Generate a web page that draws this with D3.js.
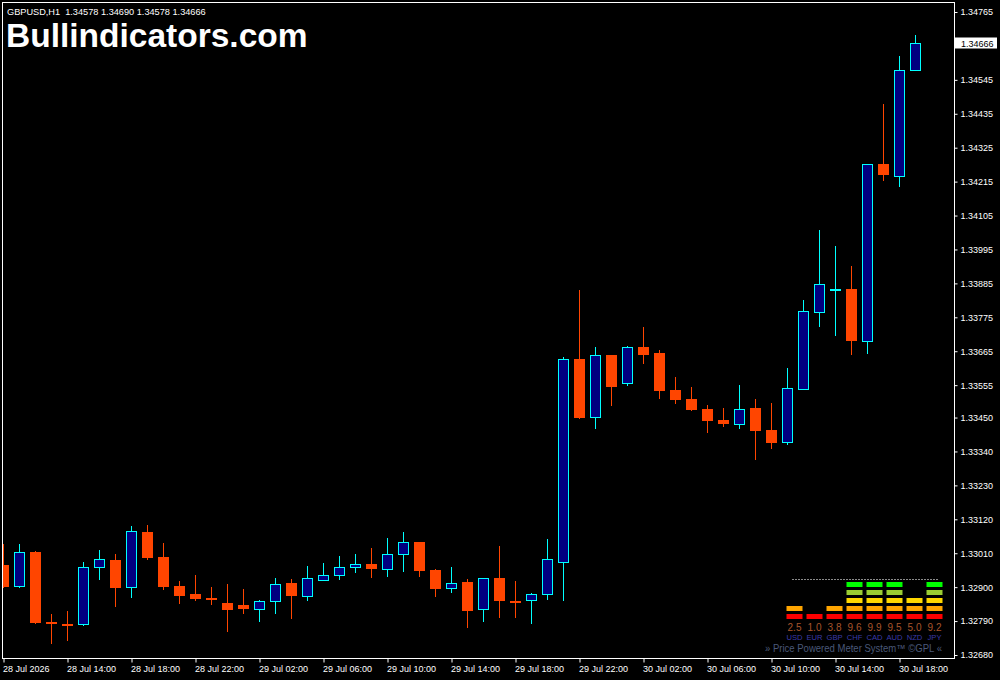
<!DOCTYPE html>
<html>
<head>
<meta charset="utf-8">
<script src="https://cdn.jsdelivr.net/npm/d3@7"></script>
<style>
  html, body { margin: 0; padding: 0; background: #000; }
  svg { display: block; }
  text { font-family: "Liberation Sans", Arial, sans-serif; }
</style>
</head>
<body>
<svg id="chart" width="1000" height="680"></svg>
<script>
// ---------------- DATA ----------------
const symbol = "GBPUSD,H1";
const watermark = "Bullindicators.com";
const startTime = "2026-07-28 10:00";
const open  = [1.32972,1.32903,1.33014,1.32787,1.32782,1.32780,1.32964,1.32988,1.32900,1.33079,
               1.32998,1.32904,1.32878,1.32865,1.32849,1.32842,1.32828,1.32854,1.32913,1.32870,
               1.32922,1.32938,1.32964,1.32975,1.32958,1.33007,1.33046,1.32956,1.32896,1.32917,
               1.32828,1.32930,1.32855,1.32857,1.32877,1.32983,1.33640,1.33451,1.33653,1.33563,
               1.33679,1.33659,1.33539,1.33510,1.33478,1.33442,1.33430,1.33481,1.33409,1.33370,
               1.33544,1.33793,1.33866,1.33867,1.33699,1.34272,1.34234,1.34578];
const high  = [1.33040,1.33040,1.33017,1.32813,1.32823,1.32982,1.33020,1.33008,1.33098,1.33102,
               1.33043,1.32920,1.32939,1.32900,1.32910,1.32894,1.32858,1.32930,1.32925,1.32969,
               1.32978,1.33001,1.33008,1.33027,1.33059,1.33079,1.33048,1.32959,1.32965,1.32926,
               1.32931,1.33033,1.32920,1.32881,1.33056,1.33645,1.33864,1.33679,1.33653,1.33683,
               1.33744,1.33669,1.33581,1.33549,1.33491,1.33481,1.33556,1.33510,1.33497,1.33611,
               1.33831,1.34058,1.34006,1.33941,1.34271,1.34467,1.34622,1.34690];
const low   = [1.32900,1.32902,1.32785,1.32720,1.32730,1.32777,1.32927,1.32840,1.32869,1.32992,
               1.32895,1.32850,1.32859,1.32846,1.32759,1.32817,1.32791,1.32817,1.32801,1.32859,
               1.32922,1.32927,1.32950,1.32934,1.32937,1.32953,1.32937,1.32872,1.32885,1.32772,
               1.32791,1.32804,1.32804,1.32785,1.32863,1.32858,1.33449,1.33417,1.33491,1.33556,
               1.33628,1.33514,1.33498,1.33474,1.33403,1.33424,1.33417,1.33316,1.33352,1.33365,
               1.33544,1.33748,1.33719,1.33656,1.33660,1.34220,1.34202,1.34578];
const close = [1.32901,1.33013,1.32785,1.32784,1.32780,1.32964,1.32990,1.32898,1.33081,1.32996,
               1.32901,1.32872,1.32863,1.32863,1.32827,1.32830,1.32855,1.32909,1.32872,1.32929,
               1.32938,1.32964,1.32974,1.32960,1.33007,1.33045,1.32953,1.32895,1.32913,1.32824,
               1.32929,1.32856,1.32850,1.32877,1.32990,1.33639,1.33449,1.33652,1.33549,1.33678,
               1.33653,1.33536,1.33507,1.33474,1.33439,1.33429,1.33477,1.33406,1.33368,1.33545,
               1.33794,1.33882,1.33868,1.33699,1.34271,1.34237,1.34578,1.34666];
const priceTicks = [1.32680,1.32790,1.32900,1.33010,1.33120,1.33230,1.33340,1.33450,1.33555,1.33665,
                    1.33775,1.33885,1.33995,1.34105,1.34215,1.34325,1.34435,1.34545,1.34655,1.34765];
const timeTicks = ["2026-07-28 10:00","2026-07-28 14:00","2026-07-28 18:00","2026-07-28 22:00",
                   "2026-07-29 02:00","2026-07-29 06:00","2026-07-29 10:00","2026-07-29 14:00",
                   "2026-07-29 18:00","2026-07-29 22:00","2026-07-30 02:00","2026-07-30 06:00",
                   "2026-07-30 10:00","2026-07-30 14:00","2026-07-30 18:00"];
const timeTickLabels = ["28 Jul 2026","28 Jul 14:00","28 Jul 18:00","28 Jul 22:00",
                        "29 Jul 02:00","29 Jul 06:00","29 Jul 10:00","29 Jul 14:00",
                        "29 Jul 18:00","29 Jul 22:00","30 Jul 02:00","30 Jul 06:00",
                        "30 Jul 10:00","30 Jul 14:00","30 Jul 18:00"];
// Currency strength meter
const currencies = ["USD","EUR","GBP","CHF","CAD","AUD","NZD","JPY"];
const strengths  = [2.5, 1.0, 3.8, 9.6, 9.9, 9.5, 5.0, 9.2];
const levelColors = ["#ff0000","#ffa500","#ffd700","#9acd32","#00ff00"];
const meterFooter = "\u00bb Price Powered Meter System\u2122 \u00a9GPL \u00ab";

// ---------------- SETUP ----------------
const parse = d3.timeParse("%Y-%m-%d %H:%M");
const t0 = parse(startTime);
const times = open.map((_, i) => d3.timeHour.offset(t0, i));
const candles = times.map((t, i) => ({t, o: open[i], h: high[i], l: low[i], c: close[i]}));

const svg = d3.select("#chart");
svg.append("rect").attr("width", 1000).attr("height", 680).attr("fill", "#000");

const plot = {left: 2.5, top: 2.5, right: 954.5, bottom: 658.5};

const x = d3.scaleTime()
  .domain([times[0], times[times.length - 1]])
  .range([3.5, 3.5 + 16 * (times.length - 1)]);
const y = d3.scaleLinear().domain([1.32680, 1.34765]).range([655, 12]);

svg.append("clipPath").attr("id", "clip")
  .append("rect").attr("x", 3).attr("y", 3).attr("width", 951).attr("height", 655);

// ---------------- CANDLES ----------------
const BULL_FILL = "#000080", BULL_LINE = "#00ffff", BEAR = "#ff4500";
const g = svg.append("g").attr("clip-path", "url(#clip)");
const cg = g.selectAll("g.candle").data(candles).join("g").attr("class", "candle");

cg.append("line")
  .attr("x1", d => x(d.t)).attr("x2", d => x(d.t))
  .attr("y1", d => Math.round(y(d.h))).attr("y2", d => Math.round(y(d.l)) + 1)
  .attr("stroke", d => d.c >= d.o ? BULL_LINE : BEAR)
  .attr("stroke-width", 1);

cg.filter(d => d.c >= d.o).append("rect")
  .attr("x", d => x(d.t) - 5)
  .attr("y", d => Math.round(y(d.c)) + 0.5)
  .attr("width", 10)
  .attr("height", d => Math.max(1, Math.round(y(d.o)) - Math.round(y(d.c))))
  .attr("fill", BULL_FILL)
  .attr("stroke", BULL_LINE)
  .attr("stroke-width", 1);

cg.filter(d => d.c < d.o).append("rect")
  .attr("x", d => x(d.t) - 5.5)
  .attr("y", d => Math.round(y(d.o)))
  .attr("width", 11)
  .attr("height", d => Math.max(2, Math.round(y(d.c)) - Math.round(y(d.o))))
  .attr("fill", BEAR);

// ---------------- FRAME ----------------
svg.append("rect")
  .attr("x", plot.left).attr("y", plot.top)
  .attr("width", plot.right - plot.left).attr("height", plot.bottom - plot.top)
  .attr("fill", "none").attr("stroke", "#fff").attr("stroke-width", 1);

// ---------------- AXES ----------------
const last = candles[candles.length - 1];
const yAxis = d3.axisRight(y).tickValues(priceTicks).tickSize(3).tickPadding(3)
  .tickFormat(d3.format(".5f"));
const ya = svg.append("g").attr("transform", `translate(${plot.right},0)`).call(yAxis);
ya.select(".domain").remove();
ya.selectAll(".tick line").attr("stroke", "#fff");
ya.selectAll(".tick text").attr("fill", "#fff").attr("font-size", 9)
  .attr("font-family", "Liberation Sans, Arial, sans-serif");
// the label hidden behind the current-price box is not drawn
ya.selectAll(".tick").filter(d => Math.abs(y(d) - y(last.c)) < 8).select("text").remove();

const tickDates = timeTicks.map(parse);
const xAxis = d3.axisBottom(x).tickValues(tickDates).tickSize(4)
  .tickFormat((d, i) => timeTickLabels[i]);
const xa = svg.append("g").attr("transform", `translate(0,${plot.bottom})`).call(xAxis);
xa.select(".domain").remove();
xa.selectAll(".tick line").attr("stroke", "#fff");
xa.selectAll(".tick text").attr("fill", "#fff").attr("font-size", 9)
  .attr("font-family", "Liberation Sans, Arial, sans-serif")
  .attr("text-anchor", "start").attr("x", -1).attr("y", 13).attr("dy", 0);

// current price label
const ly = y(last.c);
svg.append("rect").attr("x", 955).attr("y", Math.round(ly) - 5.5).attr("width", 42).attr("height", 11)
  .attr("fill", "#fff");
svg.append("text").attr("x", 961).attr("y", Math.round(ly) + 3.5)
  .attr("font-size", 9).attr("fill", "#000").text(d3.format(".5f")(last.c));

// ---------------- TITLES ----------------
const f5 = d3.format(".5f");
svg.append("text").attr("x", 7).attr("y", 14.5).attr("font-size", 9.2).attr("fill", "#fff")
  .attr("xml:space", "preserve").style("white-space", "pre")
  .text(`${symbol}  ${f5(last.o)} ${f5(last.h)} ${f5(last.l)} ${f5(last.c)}`);
svg.append("text").attr("x", 6).attr("y", 46.5).attr("font-size", 33.5)
  .attr("font-weight", "bold").attr("fill", "#fff").text(watermark);

// ---------------- STRENGTH METER ----------------
const mx = d3.scaleBand().domain(currencies).range([784.5, 944.5]).paddingInner(0.2).paddingOuter(0.1);
const my = d3.scaleLinear().domain([0, 4]).range([614, 582]);
const meter = svg.append("g");
meter.append("line").attr("x1", 792).attr("x2", 939).attr("y1", 579.5).attr("y2", 579.5)
  .attr("stroke", "#8a8a8a").attr("stroke-width", 1).attr("stroke-dasharray", "2,1");

const meterData = currencies.map((c, i) => ({c, v: strengths[i], n: Math.ceil(strengths[i] / 2)}));
meterData.forEach(d => {
  for (let k = 0; k < d.n; k++) {
    meter.append("rect").attr("x", mx(d.c)).attr("y", my(k))
      .attr("width", mx.bandwidth()).attr("height", 5).attr("fill", levelColors[k]);
  }
});
meter.selectAll("text.val").data(meterData).join("text").attr("class", "val")
  .attr("x", d => mx(d.c) + mx.bandwidth() / 2).attr("y", 630.5)
  .attr("text-anchor", "middle").attr("font-size", 10).attr("fill", "#a8552c")
  .text(d => d.v.toFixed(1));
meter.selectAll("text.cur").data(meterData).join("text").attr("class", "cur")
  .attr("x", d => mx(d.c) + mx.bandwidth() / 2).attr("y", 640)
  .attr("text-anchor", "middle").attr("font-size", 7.6).attr("fill", "#3a3aaa")
  .text(d => d.c);
meter.append("text").attr("x", 765).attr("y", 651.5).attr("font-size", 10.5)
  .attr("textLength", 177).attr("lengthAdjust", "spacingAndGlyphs")
  .attr("fill", "#4a5878").text(meterFooter);
</script>
</body>
</html>
